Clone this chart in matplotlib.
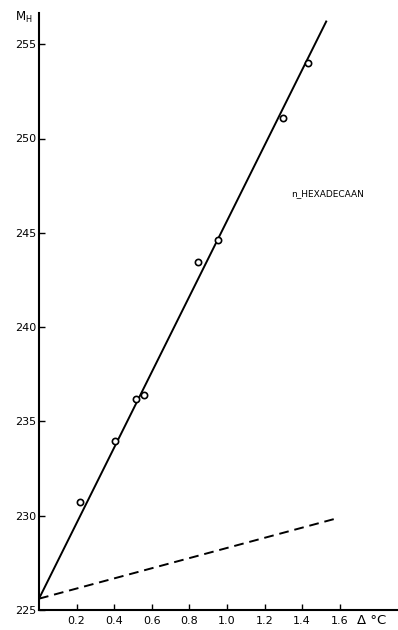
import matplotlib
matplotlib.use("Agg")
import matplotlib.pyplot as plt

# gemeten punten (delta T in graden C, molecuulgewicht M_H)
delta_t = [0.218, 0.404, 0.516, 0.559, 0.846, 0.952, 1.298, 1.431]
m_h = [230.73, 233.96, 236.19, 236.40, 243.45, 244.62, 251.09, 254.0]

# getrokken lijnen: eindpunten
lijn_x = [0.0, 1.53]
lijn_y = [225.6, 256.25]
streep_x = [0.0, 1.58]
streep_y = [225.6, 229.85]

x_ticks = [0.2, 0.4, 0.6, 0.8, 1.0, 1.2, 1.4, 1.6]
x_labels = ["0.2", "0.4", "0.6", "0.8", "1.0", "1.2", "1.4", "1.6"]
y_ticks = [225, 230, 235, 240, 245, 250, 255]

fig = plt.figure(figsize=(3.98, 6.3), dpi=100)
ax = fig.add_axes([39 / 398, 20 / 630, 358 / 398, 597 / 630])

ax.plot(lijn_x, lijn_y, color="black", linewidth=1.4, solid_capstyle="butt")
ax.plot(streep_x, streep_y, color="black", linewidth=1.4, dashes=(5, 3))
ax.plot(delta_t, m_h, linestyle="none", marker="o", markersize=4.5,
        markerfacecolor="white", markeredgecolor="black", markeredgewidth=1.2)

ax.set_xlim(0, 358 / 188)
ax.set_ylim(225, 225 + 597 / 18.86)

ax.spines["top"].set_visible(False)
ax.spines["right"].set_visible(False)
ax.spines["left"].set_linewidth(1.5)
ax.spines["bottom"].set_linewidth(1.5)

ax.set_xticks(x_ticks)
ax.set_xticklabels(x_labels)
ax.set_yticks(y_ticks)
ax.tick_params(axis="both", direction="in", length=4, width=1.0,
               labelsize=8, colors="black")
ax.tick_params(axis="x", pad=4)
ax.tick_params(axis="y", pad=2)

ax.text(0.805, 0.698, "n_HEXADECAAN", transform=ax.transAxes,
        fontsize=6.5, ha="center", va="center")

fig.text(15 / 398, 1 - 17 / 630, r"M$_\mathregular{H}$", fontsize=8.5,
         ha="left", va="center")
fig.text(372 / 398, 1 - 621 / 630, "Δ °C", fontsize=9.5,
         ha="center", va="center")

fig.savefig("out.png", dpi=100)
